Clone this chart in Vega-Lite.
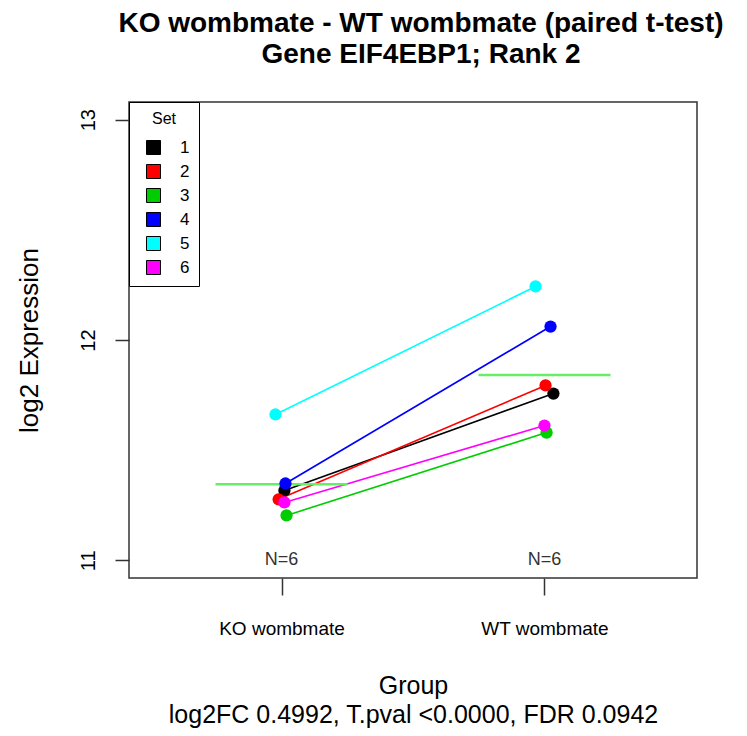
{
  "$schema": "https://vega.github.io/schema/vega-lite/v6.json",
  "width": 568,
  "height": 476,
  "autosize": "none",
  "padding": {"left": 129, "top": 102, "right": 50, "bottom": 158},
  "background": "white",
  "title": {
    "text": ["KO wombmate - WT wombmate (paired t-test)", "Gene EIF4EBP1; Rank 2"],
    "font": "Liberation Sans",
    "fontSize": 28,
    "fontWeight": "bold",
    "lineHeight": 31,
    "anchor": "middle",
    "offset": 33,
    "dx": 8,
    "color": "black"
  },
  "data": {
    "values": [
      {"set": "1", "group": 1, "xj": 1.011, "value": 11.317},
      {"set": "2", "group": 1, "xj": 0.989, "value": 11.277},
      {"set": "3", "group": 1, "xj": 1.019, "value": 11.204},
      {"set": "4", "group": 1, "xj": 1.015, "value": 11.349},
      {"set": "5", "group": 1, "xj": 0.977, "value": 11.662},
      {"set": "6", "group": 1, "xj": 1.011, "value": 11.263},
      {"set": "1", "group": 2, "xj": 2.034, "value": 11.757},
      {"set": "2", "group": 2, "xj": 2.004, "value": 11.794},
      {"set": "3", "group": 2, "xj": 2.008, "value": 11.580},
      {"set": "4", "group": 2, "xj": 2.023, "value": 12.061},
      {"set": "5", "group": 2, "xj": 1.966, "value": 12.243},
      {"set": "6", "group": 2, "xj": 2.000, "value": 11.612}
    ]
  },
  "config": {
    "view": {"stroke": "#333333", "strokeWidth": 1.5},
    "font": "Liberation Sans",
    "axis": {
      "grid": false,
      "domain": false,
      "tickColor": "#333333",
      "tickWidth": 1.5,
      "labelColor": "black",
      "titleColor": "black",
      "labelFont": "Liberation Sans",
      "titleFont": "Liberation Sans",
      "titleFontWeight": "normal"
    },
    "axisX": {
      "tickSize": 17,
      "labelFontSize": 19,
      "labelPadding": 24,
      "titleFontSize": 25,
      "titleLineHeight": 29,
      "titlePadding": 35
    },
    "axisY": {
      "tickSize": 14,
      "labelFontSize": 20,
      "labelAngle": 270,
      "labelAlign": "center",
      "labelBaseline": "bottom",
      "labelPadding": 17,
      "titleFontSize": 26,
      "titlePadding": 36
    }
  },
  "layer": [
    {
      "mark": {"type": "line", "strokeWidth": 1.6},
      "encoding": {
        "x": {
          "field": "xj", "type": "quantitative",
          "scale": {"domain": [0.42, 2.58], "nice": false, "zero": false},
          "axis": {"values": [1, 2], "title": ["Group", "log2FC 0.4992, T.pval <0.0000, FDR 0.0942"], "labelExpr": "datum.value == 1 ? 'KO wombmate' : 'WT wombmate'"}
        },
        "y": {
          "field": "value", "type": "quantitative",
          "scale": {"domain": [10.92, 13.08], "nice": false, "zero": false},
          "axis": {"values": [11, 12, 13], "format": "d", "title": "log2 Expression"}
        },
        "stroke": {
          "field": "set", "type": "nominal",
          "scale": {"range": ["#000000", "#FF0000", "#00CD00", "#0000FF", "#00FFFF", "#FF00FF"]},
          "legend": null
        },
        "detail": {"field": "set"}
      }
    },
    {
      "mark": {"type": "tick", "orient": "horizontal", "size": 132, "thickness": 2.5, "color": "#66EE66"},
      "encoding": {
        "x": {"field": "group", "type": "quantitative", "title": ["Group", "log2FC 0.4992, T.pval <0.0000, FDR 0.0942"]},
        "y": {"aggregate": "mean", "field": "value", "type": "quantitative", "title": "log2 Expression"}
      }
    },
    {
      "mark": {"type": "point", "filled": true, "opacity": 1, "size": 150},
      "encoding": {
        "x": {"field": "xj", "type": "quantitative", "title": ["Group", "log2FC 0.4992, T.pval <0.0000, FDR 0.0942"]},
        "y": {"field": "value", "type": "quantitative", "title": "log2 Expression"},
        "color": {
          "field": "set", "type": "nominal",
          "scale": {"domain": ["1", "2", "3", "4", "5", "6"], "range": ["#000000", "#FF0000", "#00CD00", "#0000FF", "#00FFFF", "#FF00FF"]},
          "legend": {
            "title": "Set",
            "orient": "top-left",
            "offset": 0,
            "strokeColor": "black",
            "fillColor": "white",
            "padding": 9,
            "symbolOffset": 7,
            "labelOffset": 18,
            "rowPadding": 5,
            "titlePadding": 12,
            "titleAnchor": "middle",
            "titleFontWeight": "normal",
            "titleFontSize": 16,
            "labelFontSize": 17,
            "titleColor": "black",
            "labelColor": "black",
            "symbolType": "square",
            "symbolSize": 196,
            "symbolStrokeColor": "black",
            "symbolStrokeWidth": 1
          }
        }
      }
    },
    {
      "transform": [
        {"aggregate": [{"op": "count", "as": "n"}], "groupby": ["group"]},
        {"calculate": "'N=' + datum.n", "as": "label"}
      ],
      "mark": {"type": "text", "fontSize": 18, "color": "#333333", "baseline": "middle", "font": "Liberation Sans"},
      "encoding": {
        "x": {"field": "group", "type": "quantitative", "title": ["Group", "log2FC 0.4992, T.pval <0.0000, FDR 0.0942"]},
        "y": {"datum": 11.0},
        "text": {"field": "label"}
      }
    }
  ]
}
